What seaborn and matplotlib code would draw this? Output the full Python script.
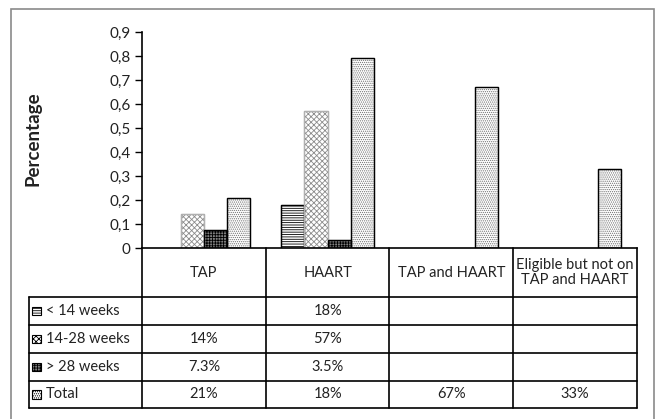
import numpy as np
import pandas as pd
import matplotlib
matplotlib.use("Agg")
import matplotlib.pyplot as plt
from matplotlib.patches import Rectangle
from matplotlib.ticker import FuncFormatter
import seaborn as sns

# ---------------------------------
# Data
# ---------------------------------
groups = ["TAP", "HAART", "TAP and HAART", "Eligible but not on\nTAP and HAART"]
series = ["< 14 weeks", "14-28 weeks", "> 28 weeks", "Total"]

lt14 = [np.nan, 0.18, np.nan, np.nan]
w14_28 = [0.14, 0.57, np.nan, np.nan]
gt28 = [0.073, 0.035, np.nan, np.nan]
total = [0.21, 0.79, 0.67, 0.33]

# table text as printed in the source
table_text = [
    ["", "18%", "", ""],
    ["14%", "57%", "", ""],
    ["7.3%", "3.5%", "", ""],
    ["21%", "18%", "67%", "33%"],
]

y_ticks = [0, 0.1, 0.2, 0.3, 0.4, 0.5, 0.6, 0.7, 0.8, 0.9]

# ---------------------------------
# Long format
# ---------------------------------
rows = []
for name, vals in zip(series, [lt14, w14_28, gt28, total]):
    for g, v in zip(groups, vals):
        rows.append({"group": g, "series": name, "value": v})
df = pd.DataFrame(rows).dropna()

# bar styles: facecolor, hatch colour, hatch, outline colour
styles = {
    "< 14 weeks": ("white", "black", "-------", "black"),
    "14-28 weeks": ("white", "#8c8c8c", "xxxxxx", "#b0b0b0"),
    "> 28 weeks": ("#808080", "black", "++++++", "black"),
    "Total": ("white", "#707070", "........", "black"),
}

sns.set_theme(style="white")
plt.rcParams["font.family"] = ["Lato", "DejaVu Sans"]
plt.rcParams["hatch.linewidth"] = 0.6

fig = plt.figure(figsize=(6.57, 4.19), dpi=100)
ax = fig.add_axes([0.2161, 0.4081, 0.7534, 0.5155])

sns.barplot(
    data=df, x="group", y="value", hue="series",
    order=groups, hue_order=series, width=0.75,
    errorbar=None, legend=False, ax=ax,
)

for name, cont in zip(series, ax.containers):
    fc, hc, h, oc = styles[name]
    for bar in cont:
        bar.set_facecolor(fc)
        bar.set_edgecolor(hc)
        bar.set_hatch(h)
        bar.set_linewidth(0.8)
        # outline drawn on top so the hatch colour can differ
        ax.add_patch(Rectangle(bar.get_xy(), bar.get_width(), bar.get_height(),
                               fill=False, edgecolor=oc, lw=1.0))

ax.set_xlim(-0.5, 3.5)
ax.set_ylim(0, 0.9)
ax.set_yticks(y_ticks)
ax.yaxis.set_major_formatter(
    FuncFormatter(lambda v, p: "0" if v == 0 else f"{v:.1f}".replace(".", ","))
)
ax.tick_params(axis="y", left=True, length=5, width=1, color="black",
               labelsize=11, pad=3, labelcolor="#222222")
ax.set_xticks([])
ax.set_xlabel("")
ax.set_ylabel("Percentage", fontsize=13.5, fontweight="bold", color="#222222")
ax.yaxis.set_label_coords(-0.204, 0.505)
for s in ["top", "right"]:
    ax.spines[s].set_visible(False)
for s in ["left", "bottom"]:
    ax.spines[s].set_color("black")
    ax.spines[s].set_linewidth(1.2)

# ---------------------------------
# Data table below the axis
# ---------------------------------
tr = ax.transAxes
row_left = -0.228
header_bottom = -0.2269
row_lines = [-0.2269, -0.3565, -0.4861, -0.6157, -0.7407]
col_lines = [0, 0.25, 0.5, 0.75, 1.0]
lc = dict(color="black", lw=1.2, transform=tr, clip_on=False)

for x in col_lines:
    ax.plot([x, x], [0, row_lines[-1]], **lc)
ax.plot([row_left, row_left], [header_bottom, row_lines[-1]], **lc)
for y in row_lines:
    ax.plot([row_left, 1.0], [y, y], **lc)

for i, g in enumerate(groups):
    ax.text((col_lines[i] + col_lines[i + 1]) / 2, header_bottom / 2, g,
            ha="center", va="center", fontsize=10.5, transform=tr,
            color="#222222", linespacing=1.05)

for r, name in enumerate(series):
    yc = (row_lines[r] + row_lines[r + 1]) / 2
    fc, hc, h, oc = styles[name]
    key = Rectangle((row_left + 0.006, yc - 0.019), 0.017, 0.038,
                    facecolor=fc, edgecolor="black", hatch=h, lw=0.8,
                    transform=tr, clip_on=False)
    ax.add_patch(key)
    ax.text(row_left + 0.034, yc, name, ha="left", va="center",
            fontsize=10.5, transform=tr, color="#222222")
    for c in range(len(groups)):
        ax.text((col_lines[c] + col_lines[c + 1]) / 2, yc, table_text[r][c],
                ha="center", va="center", fontsize=10.5, transform=tr,
                color="#222222")

# outer border
fig.patches.append(Rectangle((11 / 657, -0.05), 643 / 657, 1.05 - 9 / 419,
                             transform=fig.transFigure, fill=False,
                             edgecolor="#8a8a8a", lw=1.2))

fig.savefig("out.png", dpi=100)
